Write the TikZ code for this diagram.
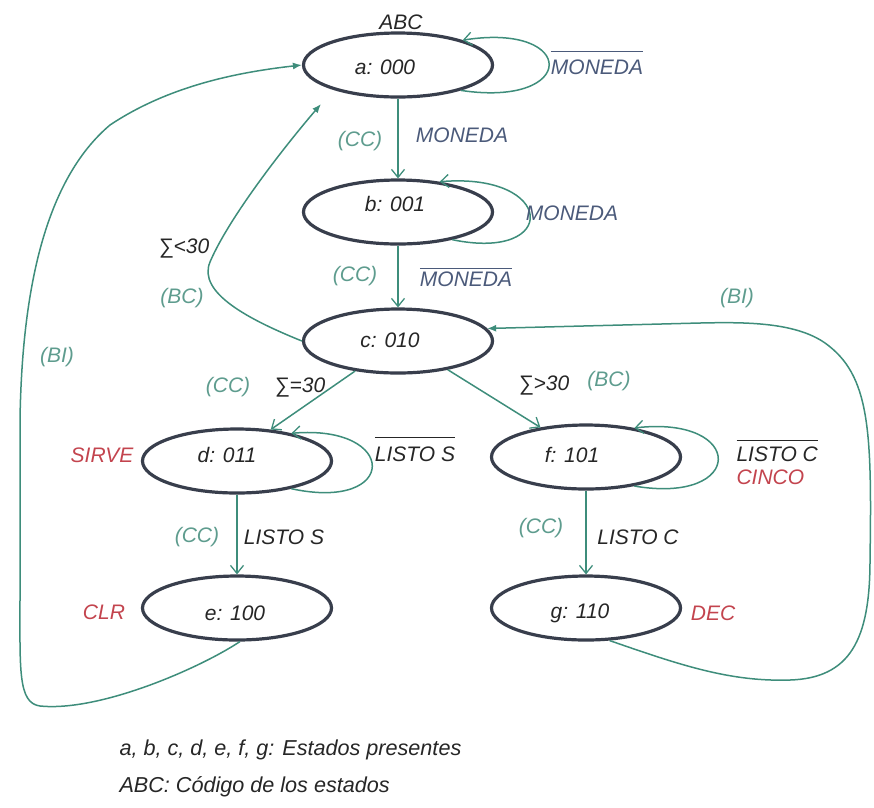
\documentclass[tikz,border=0pt]{standalone}
\usepackage{fontspec}
\setmainfont{Liberation Sans}
\usetikzlibrary{arrows.meta,shapes.geometric}

\definecolor{cEstado}{HTML}{383E4C}
\definecolor{cFlecha}{HTML}{3E8D7B}
\definecolor{cReloj}{HTML}{5E9C8E}
\definecolor{cSenal}{HTML}{4B5A7A}
\definecolor{cSalida}{HTML}{C3444E}
\definecolor{cTinta}{HTML}{262626}

% negated signal: text with a bar above it, #1 = extra gap
\newcommand{\barra}[2][3pt]{$\overline{\raisebox{0pt}[\dimexpr\height+#1\relax][\depth]{#2}}$}

\begin{document}
\begin{tikzpicture}[x=1pt,y=-1pt,
  font=\fontsize{21}{25}\selectfont\itshape,
  estado/.style={draw=cEstado, line width=3.2pt, ellipse, fill=white,
    minimum width=189pt, minimum height=64pt, inner sep=0pt},
  codigo/.style={text=cTinta},
  tran/.style={draw=cFlecha, line width=1.5pt,
    -{Straight Barb[length=8pt,width=13pt,line width=1.3pt]}},
  tranl/.style={draw=cFlecha, line width=1.5pt, -{Latex[length=9pt,width=7pt]}},
  reloj/.style={text=cReloj},
  senal/.style={text=cSenal},
  cond/.style={text=cTinta},
  sal/.style={text=cSalida},
  leyenda/.style={text=cTinta, anchor=west, font=\fontsize{21.6}{25}\selectfont\itshape},
]
\useasboundingbox (0,0) rectangle (874,807);

% states
\node[estado, label={[codigo,xshift=-13pt,yshift=-2pt]center:{a: 000}}] (a) at (398,65) {};
\node[estado, label={[codigo,xshift=-3pt,yshift=8pt]center:{b: 001}}] (b) at (398,212) {};
\node[estado, label={[codigo,xshift=-8pt,yshift=1pt]center:{c: 010}}] (c) at (398,341) {};
\node[estado, label={[codigo,xshift=-10pt,yshift=6pt]center:{d: 011}}] (d) at (237,461) {};
\node[estado, label={[codigo,xshift=-2pt,yshift=-5pt]center:{e: 100}}] (e) at (237,608) {};
\node[estado, label={[codigo,xshift=-14pt,yshift=2pt]center:{f: 101}}] (f) at (586,457) {};
\node[estado, label={[codigo,xshift=-6pt,yshift=-5pt]center:{g: 110}}] (g) at (586,608) {};

\coordinate (bcend) at (321,104);

% straight transitions
\draw[tran] (a.south) -- (b.north);
\draw[tran] (b.south) -- (c.north);
\draw[tran] (c.-145) -- (d.43);
\draw[tran] (c.-30) -- (f.147);
\draw[tran] (d.south) -- (e.north);
\draw[tran] (f.south) -- (g.north);

% self loops
\draw[tran] (a.-22) .. controls (578,108) and (578,22) .. (a.21);
\draw[tran] (b.-27) .. controls (560,262) and (556,172) .. (b.36);
\draw[tran] (d.-27) .. controls (399,512) and (399,424) .. (d.27);
\draw[tran] (f.-31) .. controls (746,505) and (746,415) .. (f.31);

% return transitions
\draw[tranl] (c.west) .. controls (250,320) and (197,293) .. (210,262)
  .. controls (230,215) and (290,140) .. (bcend);
\draw[tranl] (e.-85) .. controls (200,668) and (100,712) .. (40,706)
  .. controls (18,703) and (20,670) .. (20,600) -- (20,420)
  .. controls (22,290) and (45,180) .. (110,125)
  .. controls (170,85) and (240,72) .. (a.west);
\draw[tranl] (g.-54) .. controls (680,665) and (730,682) .. (790,680)
  .. controls (850,678) and (870,640) .. (870,560)
  .. controls (872,430) and (870,375) .. (825,343)
  .. controls (795,322) and (745,322) .. (700,323) -- (c.8);

% transition labels
\node[cond] (abc) at (401,22) {ABC};
\node[senal] (m0) at (597,63) {\barra[7pt]{MONEDA}};
\node[reloj] (cc1) at (360,141) {(CC)};
\node[senal] (m1) at (462,135) {MONEDA};
\node[senal] (m2) at (572,213) {MONEDA};
\node[reloj] (cc2) at (355,276) {(CC)};
\node[senal] (m3) at (466,277) {\barra[2pt]{MONEDA}};
\node[cond] (s1) at (184,248) {∑<30};
\node[reloj] (bc1) at (182,298) {(BC)};
\node[reloj] (bi1) at (57,357) {(BI)};
\node[reloj] (bi2) at (737,298) {(BI)};
\node[reloj] (cc3) at (228,387) {(CC)};
\node[cond] (s2) at (300,387) {∑=30};
\node[cond] (s3) at (544,385) {∑>30};
\node[reloj] (bc2) at (609,381) {(BC)};
\node[sal] (sirve) at (102,455) {SIRVE};
\node[cond] (ls0) at (415,449) {\barra[8pt]{LISTO S}};
\node[reloj] (cc4) at (197,537) {(CC)};
\node[cond] (ls1) at (284,537) {LISTO S};
\node[reloj] (cc5) at (541,528) {(CC)};
\node[cond] (lc1) at (638,537) {LISTO C};
\node[cond, anchor=west] (lc0) at (733,451) {\barra[5pt]{LISTO C}};
\node[sal, anchor=west] (cinco) at (733,477) {CINCO};
\node[sal] (clr) at (104,612) {CLR};
\node[sal] (dec) at (713,613) {DEC};

% legend
\node[leyenda] (ley1) at (116,750) {a, b, c, d, e, f, g: Estados presentes};
\node[leyenda] (ley2) at (116,787) {ABC: Código de los estados};
\end{tikzpicture}
\end{document}
